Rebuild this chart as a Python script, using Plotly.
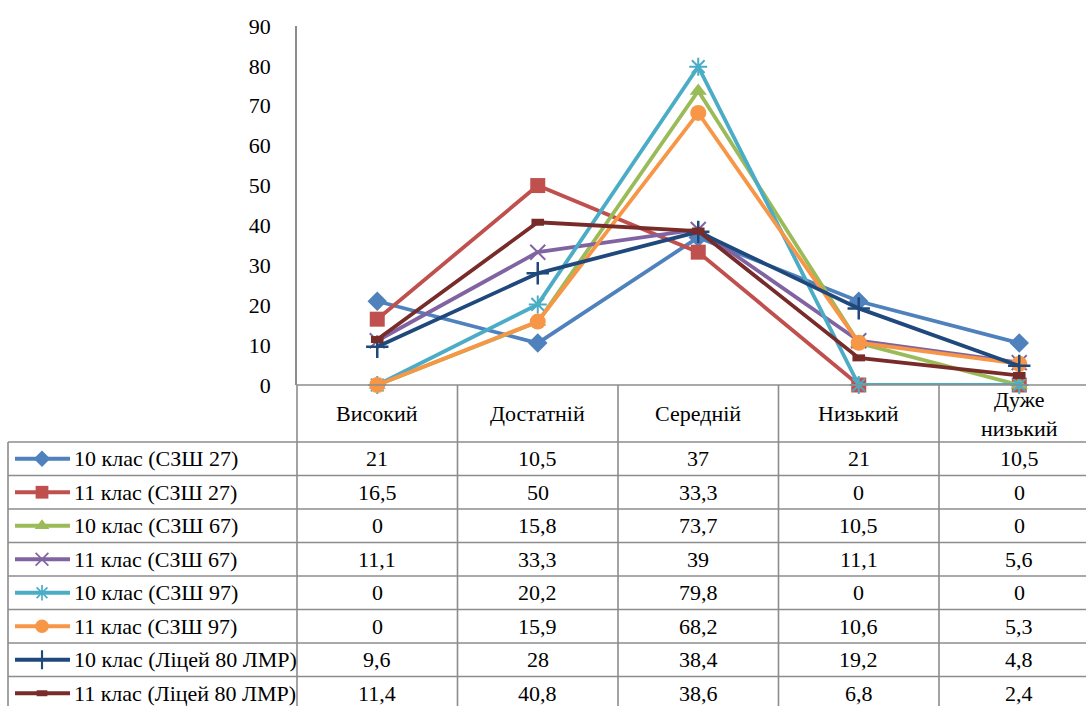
import plotly.graph_objects as go

# ---- data -------------------------------------------------------------
categories = ["Високий", "Достатній", "Середній", "Низький", "Дуже низький"]
header_labels = ["Високий", "Достатній", "Середній", "Низький", "Дуже<br>низький"]

series_names = [
    "10 клас (СЗШ 27)",
    "11 клас (СЗШ 27)",
    "10 клас (СЗШ 67)",
    "11 клас (СЗШ 67)",
    "10 клас (СЗШ 97)",
    "11 клас (СЗШ 97)",
    "10 клас (Ліцей 80 ЛМР)",
    "11 клас (Ліцей 80 ЛМР)",
]

s10_szsh27 = [21, 10.5, 37, 21, 10.5]
s11_szsh27 = [16.5, 50, 33.3, 0, 0]
s10_szsh67 = [0, 15.8, 73.7, 10.5, 0]
s11_szsh67 = [11.1, 33.3, 39, 11.1, 5.6]
s10_szsh97 = [0, 20.2, 79.8, 0, 0]
s11_szsh97 = [0, 15.9, 68.2, 10.6, 5.3]
s10_lyc80 = [9.6, 28, 38.4, 19.2, 4.8]
s11_lyc80 = [11.4, 40.8, 38.6, 6.8, 2.4]

series_values = [s10_szsh27, s11_szsh27, s10_szsh67, s11_szsh67,
                 s10_szsh97, s11_szsh97, s10_lyc80, s11_lyc80]

y_ticks = [0, 10, 20, 30, 40, 50, 60, 70, 80, 90]

# ---- styles -----------------------------------------------------------
colors = ["#4F81BD", "#C0504D", "#9BBB59", "#8064A2",
          "#4BACC6", "#F79646", "#1F497D", "#772C2A"]
symbols = ["diamond", "square", "triangle-up", "x-thin-open",
           "asterisk-open", "circle", "cross-thin-open", "line-ew-open"]
sizes = [15, 15, 15, 15, 15, 16, 16, 9]
marker_line_widths = [0, 0, 0, 2, 2, 0, 2.5, 7]

FONT = "serif"
FS = 22
GRID = "#8C8C8C"

# ---- layout geometry (pixels) ------------------------------------------
W, H = 1086, 706
AX_LEFT = 297          # y-axis / first table column line
Y_TOP = 26             # pixel of y = 90
Y_ZERO = 385           # pixel of y = 0
CW = 160.5             # category width
HDR_BOTTOM = 442       # bottom of category header row
ROW_H = 33.5
TBL_LEFT = 8
KEY_X0, KEY_X1, KEY_MID = 15, 70, 42
LEG_TEXT_X = 72

# pixel -> paper fraction (margins are zero, so paper == whole figure)
px = lambda x: x / W
py = lambda y: 1 - y / H

fmt = lambda v: (str(int(v)) if float(v).is_integer() else str(v)).replace(".", ",")

fig = go.Figure()

# main line chart
x_idx = list(range(len(categories)))
for name, vals, c, sym, sz, mlw in zip(series_names, series_values, colors,
                                       symbols, sizes, marker_line_widths):
    marker = dict(symbol=sym, size=sz, color=c)
    if mlw:
        marker["line"] = dict(color=c, width=mlw)
    fig.add_trace(go.Scatter(
        x=x_idx, y=vals, name=name, mode="lines+markers",
        line=dict(color=c, width=3.8), marker=marker,
        cliponaxis=False, showlegend=False, xaxis="x", yaxis="y",
    ))


def hline(x0, x1, y, color=GRID, width=1.6):
    return dict(type="line", xref="paper", yref="paper", x0=px(x0), x1=px(x1),
                y0=py(y), y1=py(y), line=dict(color=color, width=width))


def vline(x, y0, y1):
    return dict(type="line", xref="paper", yref="paper", x0=px(x), x1=px(x),
                y0=py(y0), y1=py(y1), line=dict(color=GRID, width=1.6))


def label(x, y, text, xanchor="center"):
    return dict(xref="paper", yref="paper", x=px(x), y=py(y), text=text,
                showarrow=False, xanchor=xanchor, yanchor="middle",
                font=dict(family=FONT, size=FS, color="black"))


shapes = [vline(AX_LEFT, Y_ZERO, H), hline(AX_LEFT, W, Y_ZERO),
          vline(TBL_LEFT, HDR_BOTTOM, H)]
for k in range(1, len(categories) + 1):
    shapes.append(vline(AX_LEFT + k * CW, Y_ZERO, H))
for r in range(len(series_names) + 1):
    yr = HDR_BOTTOM + r * ROW_H
    if yr > H:
        break
    shapes.append(hline(TBL_LEFT, W, yr))

annotations = []
for i, lab in enumerate(header_labels):
    annotations.append(label(AX_LEFT + (i + 0.5) * CW, (Y_ZERO + HDR_BOTTOM) / 2, lab))
for r, (name, vals, c) in enumerate(zip(series_names, series_values, colors)):
    yc = HDR_BOTTOM + (r + 0.5) * ROW_H
    shapes.append(hline(KEY_X0, KEY_X1, yc, color=c, width=3.8))
    annotations.append(label(LEG_TEXT_X, yc, name, xanchor="left"))
    for i, v in enumerate(vals):
        annotations.append(label(AX_LEFT + (i + 0.5) * CW, yc, fmt(v)))

# legend key markers
for r, (c, sym, sz, mlw) in enumerate(zip(colors, symbols, sizes, marker_line_widths)):
    marker = dict(symbol=sym, size=sz * 0.85, color=c)
    if mlw:
        marker["line"] = dict(color=c, width=mlw * 0.85)
    fig.add_trace(go.Scatter(
        x=[KEY_MID], y=[HDR_BOTTOM + (r + 0.5) * ROW_H], mode="markers",
        marker=marker, showlegend=False, hoverinfo="skip",
        cliponaxis=False, xaxis="x2", yaxis="y2",
    ))

fig.update_layout(
    template="none",
    width=W, height=H,
    margin=dict(l=0, r=0, t=0, b=0),
    paper_bgcolor="white", plot_bgcolor="rgba(0,0,0,0)",
    showlegend=False,
    font=dict(family=FONT, size=FS, color="black"),
    xaxis=dict(domain=[AX_LEFT / W, 1], range=[-0.5, -0.5 + (W - AX_LEFT) / CW],
               showticklabels=False, showgrid=False, zeroline=False,
               showline=False, ticks="", automargin=False),
    yaxis=dict(domain=[(H - Y_ZERO) / H, (H - Y_TOP) / H], range=[0, 90],
               tickvals=y_ticks, ticktext=[str(t) for t in y_ticks],
               showgrid=False, zeroline=False, showline=True,
               linecolor=GRID, linewidth=1.6, ticks="outside", ticklen=20,
               tickcolor="rgba(0,0,0,0)", automargin=False,
               tickfont=dict(family=FONT, size=FS, color="black")),
    xaxis2=dict(domain=[0, 1], range=[0, W], visible=False, anchor="y2",
                automargin=False),
    yaxis2=dict(domain=[0, 1], range=[H, 0], visible=False, anchor="x2",
                automargin=False),
    shapes=shapes,
    annotations=annotations,
)

fig.write_html("out.html")
